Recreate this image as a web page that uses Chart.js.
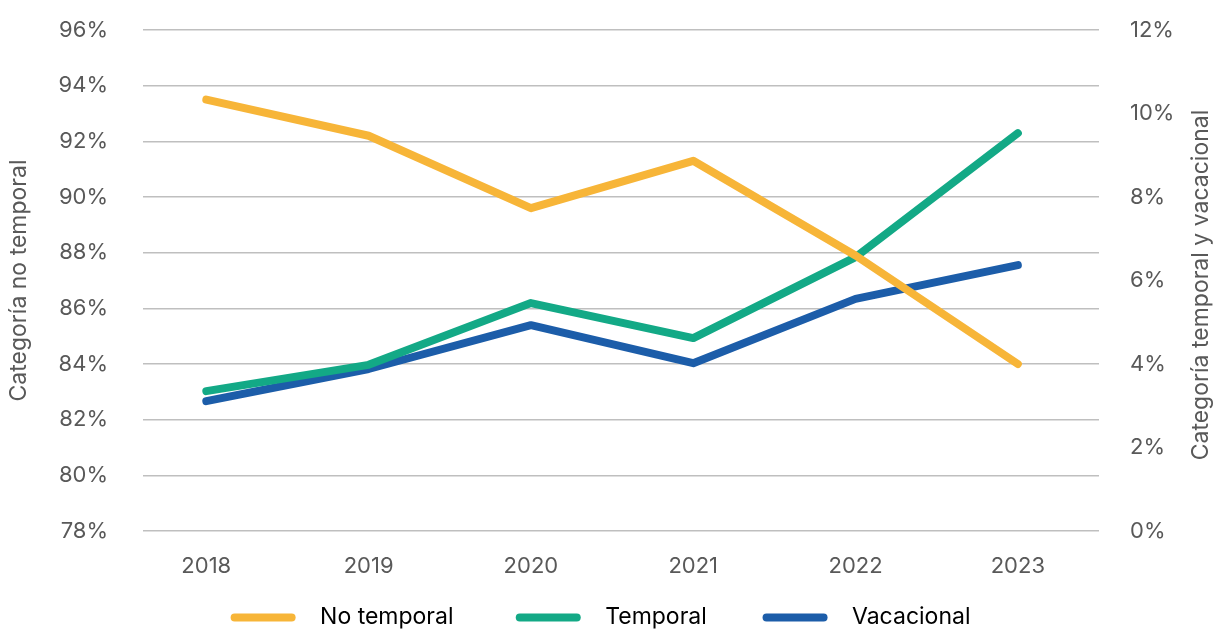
<!DOCTYPE html>
<html>
<head>
<meta charset="utf-8">
<script src="https://cdn.jsdelivr.net/npm/chart.js@4.4.1/dist/chart.umd.min.js"></script>
<style>
  html, body { margin: 0; padding: 0; background: #fff; }
  #wrap { width: 1214px; height: 632px; }
</style>
</head>
<body>
<div id="wrap"><canvas id="grafico"></canvas></div>
<script>
// datos
var anios = [2018, 2019, 2020, 2021, 2022, 2023];
var noTemporal = [93.5, 92.2, 89.6, 91.3, 87.9, 84.0];
var temporal = [3.35, 3.98, 5.46, 4.62, 6.56, 9.53];
var vacacional = [3.11, 3.88, 4.93, 4.02, 5.56, 6.37];
var ticksIzq = [78, 80, 82, 84, 86, 88, 90, 92, 94, 96];
var ticksDer = [0, 2, 4, 6, 8, 10, 12];

var gris = '#595959';
var fuente = 'Inter, "Noto Sans", sans-serif';

// titulo del eje derecho, leido de abajo hacia arriba
var tituloDerecho = {
  id: 'tituloDerecho',
  afterDraw: function(chart) {
    var ctx = chart.ctx;
    ctx.save();
    ctx.translate(1201, 285);
    ctx.rotate(-Math.PI / 2);
    ctx.fillStyle = gris;
    ctx.font = '23px ' + fuente;
    ctx.textAlign = 'center';
    ctx.textBaseline = 'middle';
    ctx.fillText('Categoría temporal y vacacional', 0, 0);
    ctx.restore();
  }
};

Chart.defaults.font.family = fuente;
Chart.defaults.color = gris;

var espaciosFin = ['         ', '        ', '  '];

var grafico = new Chart(document.getElementById('grafico'), {
  type: 'line',
  data: {
    labels: anios,
    datasets: [
      { label: 'No temporal', data: noTemporal, yAxisID: 'yIzq', borderColor: '#F7B538', backgroundColor: '#F7B538' },
      { label: 'Temporal', data: temporal, yAxisID: 'yDer', borderColor: '#13A986', backgroundColor: '#13A986' },
      { label: 'Vacacional', data: vacacional, yAxisID: 'yDer', borderColor: '#1C5DA9', backgroundColor: '#1C5DA9' }
    ]
  },
  options: {
    responsive: true,
    maintainAspectRatio: false,
    animation: false,
    layout: { padding: { top: 30, left: 0, right: 0, bottom: -7 } },
    elements: {
      line: { borderWidth: 8, tension: 0, borderCapStyle: 'round', borderJoinStyle: 'round' },
      point: { radius: 0, hoverRadius: 0 }
    },
    plugins: {
      tooltip: { enabled: false },
      legend: {
        position: 'bottom',
        labels: {
          boxWidth: 65,
          boxHeight: 8,
          useBorderRadius: true,
          borderRadius: 4,
          padding: 4,
          font: { size: 23 },
          color: gris,
          generateLabels: function(chart) {
            return chart.data.datasets.map(function(ds, i) {
              return {
                text: '  ' + ds.label + espaciosFin[i],
                fillStyle: ds.borderColor,
                strokeStyle: ds.borderColor,
                lineWidth: 0,
                borderRadius: 4,
                datasetIndex: i,
                hidden: false
              };
            });
          }
        }
      }
    },
    scales: {
      x: {
        type: 'linear',
        min: anios[0] - 0.39,
        max: anios[anios.length - 1] + 0.5,
        grid: { display: false },
        border: { display: false },
        afterBuildTicks: function(scale) {
          scale.ticks = anios.map(function(a) { return { value: a }; });
        },
        afterFit: function(scale) { scale.height = 71; },
        ticks: {
          font: { size: 22 },
          color: gris,
          padding: 14,
          maxRotation: 0,
          callback: function(v) { return String(v); }
        }
      },
      yIzq: {
        position: 'left',
        min: ticksIzq[0],
        max: ticksIzq[ticksIzq.length - 1],
        afterBuildTicks: function(scale) {
          scale.ticks = ticksIzq.map(function(t) { return { value: t }; });
        },
        afterFit: function(scale) { scale.width = 143; },
        grid: { color: '#BFBFBF', lineWidth: 1.5, drawTicks: true, tickLength: 33, tickColor: 'rgba(0,0,0,0)' },
        border: { display: false },
        title: { display: true, text: 'Categoría no temporal', font: { size: 23 }, color: gris, padding: { top: 5, bottom: 0 } },
        ticks: {
          font: { size: 22 },
          color: gris,
          padding: 2,
          callback: function(v) { return v + '%'; }
        }
      },
      yDer: {
        position: 'right',
        min: ticksDer[0],
        max: ticksDer[ticksDer.length - 1],
        afterBuildTicks: function(scale) {
          scale.ticks = ticksDer.map(function(t) { return { value: t }; });
        },
        afterFit: function(scale) { scale.width = 115; },
        grid: { display: true, drawOnChartArea: false, drawTicks: true, tickLength: 29, tickColor: 'rgba(0,0,0,0)' },
        border: { display: false },
        ticks: {
          font: { size: 22 },
          color: gris,
          padding: 2,
          callback: function(v) { return v + '%'; }
        }
      }
    }
  },
  plugins: [tituloDerecho]
});
</script>
</body>
</html>
